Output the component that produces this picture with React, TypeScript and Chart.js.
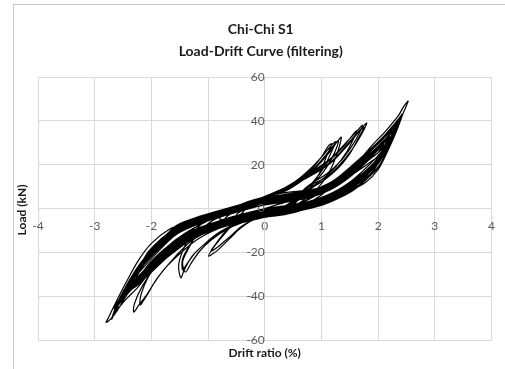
import React, { useEffect, useRef } from 'react';
import { Chart, registerables } from 'chart.js';

Chart.register(...registerables);

const titleLines = ['Chi-Chi S1', 'Load-Drift Curve (filtering)'];
const xAxisTitle = 'Drift ratio (%)';
const yAxisTitle = 'Load (kN)';
const xRange = [-4, 4];
const xStep = 1;
const yRange = [-60, 60];
const yStep = 20;

// [drift ratio (%), load (kN)] – small early cycles
const smallCycles: [number, number][] = [
  [0, 0], [0.25, 2], [0.5, 4],
  [0.3, 4.5], [0, 3], [-0.3, 0.5], [-0.5, -3],
  [-0.3, -3.5], [0, -2], [0.3, 0.5], [0.6, 4.5],
  [0.4, 5.5], [0, 3.5], [-0.4, 0], [-0.7, -4.5],
  [-0.5, -5], [0, -2.5], [0.4, 0.5], [0.8, 5],
  [0.5, 6], [0, 4], [-0.4, 0.5], [-0.8, -4.5],
  [-0.5, -5.5], [0, -3], [0.4, 0], [0.8, 4.5], [1.0, 8],
  [0.8, 8], [0.4, 6.5], [0, 4.5], [-0.4, 1], [-0.8, -4], [-1.0, -7],
  [-0.8, -7.5], [-0.4, -5], [0, -3], [0.4, -0.5], [0.8, 3], [1.1, 8.5],
];

// stiffer cycles branching off the main band
const stiffCycles: [number, number][] = [
  [0.9, 9], [0.5, 7], [0, 5], [-0.25, 2.5], [-0.45, -4], [-0.69, -11], [-0.88, -17], [-0.99, -21.7],
  [-0.83, -19], [-0.63, -14], [-0.45, -9.5], [-0.2, -5], [0, -3.5], [0.3, -1], [0.6, 4], [0.85, 11], [1.0, 18], [1.1, 24.5], [1.18, 29.5],
  [1.12, 28.5], [1.0, 23.5], [0.83, 18], [0.6, 13], [0.3, 8.5], [0, 5.5], [-0.25, 2], [-0.45, -3.5], [-0.68, -10], [-0.86, -16], [-0.95, -19.5],
  [-0.8, -17], [-0.6, -12.5], [-0.4, -8], [-0.15, -4.5], [0.2, -1], [0.55, 4.5], [0.85, 12], [1.05, 19], [1.17, 25.5], [1.25, 30.5],
  [1.18, 29], [1.02, 24], [0.8, 18], [0.55, 12.5], [0.25, 8], [0, 5], [-0.5, 0], [-1.0, -5], [-1.3, -12], [-1.45, -19.5], [-1.52, -26], [-1.48, -31.6],
  [-1.42, -28], [-1.28, -21.7], [-1.04, -15.7], [-0.81, -11], [-0.5, -7], [0, -4], [0.4, -0.5], [0.8, 6], [1.05, 13], [1.2, 20], [1.3, 27], [1.35, 32.5],
  [1.28, 30.5], [1.15, 26], [0.95, 20], [0.7, 14], [0.35, 9], [0, 5.5], [-0.5, 0.5], [-0.95, -6], [-1.2, -12], [-1.36, -19], [-1.45, -24.5], [-1.4, -29],
  [-1.3, -25], [-1.15, -19.5], [-0.95, -14.5], [-0.7, -10], [-0.4, -6.5], [0, -4], [0.4, -0.5], [0.75, 8], [1.05, 13], [1.3, 18.5], [1.5, 25], [1.65, 32], [1.75, 37],
  [1.68, 35.5], [1.45, 28.5], [1.15, 20.5], [0.75, 14], [0.4, 9.5], [0, 5.5], [-0.5, 0.5], [-1.0, -5], [-1.35, -11], [-1.63, -18.7], [-1.92, -26.3], [-2.16, -35.4], [-2.3, -43.5], [-2.31, -47.3],
  [-2.22, -44], [-2.1, -40], [-1.87, -30.9], [-1.57, -21.7], [-1.28, -14.5], [-0.9, -9.5], [-0.5, -6], [0, -3.5], [0.4, -0.5], [0.72, 9.4], [1.07, 14], [1.3, 19.3], [1.54, 26.9], [1.71, 34], [1.8, 39],
  [1.72, 37], [1.48, 30], [1.18, 21.6], [0.77, 14.7], [0.4, 8.5], [0, 5], [-0.4, 1.5], [-0.8, -2], [-1.2, -6], [-1.6, -11], [-2.1, -23.5], [-2.3, -31.5], [-2.4, -36.5],
  [-2.25, -34], [-2.0, -27], [-1.6, -18.5], [-1.2, -12], [-0.8, -8], [-0.4, -5], [0, -3], [0.4, 0], [0.7, 7.5], [1.0, 13], [1.25, 19], [1.45, 26], [1.57, 32], [1.62, 35.5],
  [1.55, 33.5], [1.38, 28], [1.1, 21], [0.75, 15], [0.4, 10], [0, 5.5], [-0.5, 0.5], [-0.9, -5], [-1.15, -10.5], [-1.33, -17], [-1.45, -23], [-1.45, -28],
  [-1.38, -25.5], [-1.22, -20], [-1.0, -15], [-0.75, -10.5], [-0.4, -6.5], [0, -3.8], [0.35, 0], [0.7, 8], [0.95, 14], [1.12, 20], [1.24, 26], [1.3, 31],
  [1.22, 29], [1.05, 23.5], [0.82, 17], [0.5, 11], [0.2, 7], [0, 5], [-0.5, 0.5], [-1.0, -5.5], [-1.5, -13], [-1.8, -21.5], [-2.05, -31], [-2.18, -39], [-2.2, -44],
  [-2.1, -40.5], [-1.95, -34], [-1.75, -27], [-1.45, -19.5], [-1.15, -13.5], [-0.8, -9], [-0.4, -5.5], [0, -3.5], [0.4, 0], [0.75, 10], [1.1, 16], [1.35, 22], [1.55, 29], [1.68, 35], [1.72, 38],
  [1.65, 36], [1.45, 30.5], [1.15, 22.5], [0.75, 15.5], [0.4, 9], [0, 5.2], [-0.4, 1.7], [-0.8, -1.8], [-1.2, -5.7], [-1.6, -10.5], [-2.1, -23], [-2.3, -31], [-2.4, -36.5],
];

// main band of large cycles
const mainCycles: [number, number][] = [
  [-2.3, -34.5], [-2.1, -28.5], [-1.6, -16.8], [-1.2, -10.8], [-0.8, -7], [-0.4, -4], [0, -1.8], [0.4, -0.1], [0.8, 2], [1.2, 5.8], [1.6, 12], [1.8, 16], [2.0, 23], [2.1, 28],
  [2.0, 25.5], [1.8, 21.5], [1.6, 17.4], [1.2, 9.8], [0.8, 5.6], [0.4, 3.7], [0, 2.3], [-0.4, -0.4], [-0.8, -3.4], [-1.2, -6.7], [-1.6, -11.8], [-2.15, -25.5], [-2.35, -33.5], [-2.45, -38.5],
  [-2.35, -35.4], [-2.15, -31], [-1.6, -17.9], [-1.2, -11.7], [-0.8, -7.8], [-0.4, -4.8], [0, -2.7], [0.4, -0.9], [0.8, 1.2], [1.2, 4.9], [1.6, 10.8], [1.9, 16.8], [2.1, 26.6], [2.2, 32],
  [2.1, 30], [1.9, 25.5], [1.6, 18.6], [1.2, 10.7], [0.8, 6.4], [0.4, 4.5], [0, 3.2], [-0.4, 0.4], [-0.8, -2.6], [-1.2, -5.8], [-1.6, -10.7], [-2.2, -26.6], [-2.4, -34.6], [-2.5, -40.5],
  [-2.4, -37.3], [-2.2, -33.5], [-1.6, -19], [-1.2, -12.5], [-0.8, -8.6], [-0.4, -5.6], [0, -3.6], [0.4, -1.8], [0.8, 0.4], [1.2, 4], [1.6, 9.6], [2.0, 18.6], [2.2, 30.2], [2.3, 36.5],
  [2.2, 34.5], [2.0, 29.5], [1.6, 19.8], [1.2, 11.6], [0.8, 7.2], [0.4, 5.4], [0, 4.1], [-0.4, 1.2], [-0.8, -1.8], [-1.2, -4.9], [-1.6, -9.6], [-2.25, -27.9], [-2.45, -36.5], [-2.55, -42],
  [-2.45, -38.1], [-2.25, -32.1], [-1.6, -15.7], [-1.2, -9.9], [-0.8, -6.2], [-0.4, -3.2], [0, -0.9], [0.4, 0.7], [0.8, 2.8], [1.2, 6.6], [1.6, 13.2], [2.05, 24.3], [2.25, 33.6], [2.35, 39],
  [2.25, 36.5], [2.05, 31.5], [1.6, 21], [1.2, 12.5], [0.8, 8], [0.4, 6.2], [0, 5], [-0.4, 2], [-0.8, -1], [-1.2, -4], [-1.6, -8.5], [-2.3, -29.3], [-2.5, -38], [-2.6, -44],
  [-2.5, -40.7], [-2.3, -34.9], [-1.6, -17.3], [-1.2, -11.2], [-0.8, -7.4], [-0.4, -4.4], [0, -2.2], [0.4, -0.5], [0.8, 1.6], [1.2, 5.3], [1.6, 11.4], [2.1, 25], [2.3, 35.3], [2.39, 41],
  [2.3, 37.3], [2.1, 30], [1.6, 18], [1.2, 10.3], [0.8, 6], [0.4, 4.1], [0, 2.8], [-0.4, 0], [-0.8, -3], [-1.2, -6.3], [-1.6, -11.3], [-2.36, -32.6], [-2.56, -41], [-2.66, -45.5],
  [-2.56, -43.4], [-2.36, -37.2], [-1.6, -18.4], [-1.2, -12.1], [-0.8, -8.2], [-0.4, -5.2], [0, -3.1], [0.4, -1.4], [0.8, 0.8], [1.2, 4.4], [1.6, 10.2], [2.12, 25], [2.32, 36], [2.42, 43],
  [2.32, 39], [2.12, 33], [1.6, 19.2], [1.2, 11.2], [0.8, 6.8], [0.4, 5], [0, 3.6], [-0.4, 0.8], [-0.8, -2.2], [-1.2, -5.4], [-1.6, -10.2], [-2.4, -33.8], [-2.6, -43], [-2.7, -50.5],
];

// further cycles of the main band
const repeatCycles: [number, number][] = [
  [-2.6, -45], [-2.4, -36.5], [-1.6, -15.4], [-1.2, -9.6], [-0.8, -6], [-0.4, -3.1], [0, -0.7], [0.4, 1.0], [0.8, 3.0], [1.2, 6.8], [1.6, 13.5], [1.85, 18.5], [2.05, 25.5], [2.15, 31],
  [2.05, 28.5], [1.85, 25], [1.6, 20.1], [1.2, 11.8], [0.8, 7.4], [0.4, 5.6], [0, 4.3], [-0.4, 1.4], [-0.8, -1.6], [-1.2, -4.7], [-1.6, -9.3], [-2.05, -19.6], [-2.25, -29.4], [-2.35, -34.5],
  [-2.25, -31.6], [-2.05, -26.4], [-1.6, -16.5], [-1.2, -10.5], [-0.8, -6.8], [-0.4, -3.8], [0, -1.5], [0.4, 0.1], [0.8, 2.2], [1.2, 6], [1.6, 12.3], [1.98, 20.7], [2.18, 30.3], [2.28, 36],
  [2.18, 33], [1.98, 27.5], [1.6, 18.9], [1.2, 10.9], [0.8, 6.6], [0.4, 4.7], [0, 3.4], [-0.4, 0.6], [-0.8, -2.4], [-1.2, -5.6], [-1.6, -10.4], [-2.12, -23.2], [-2.32, -32.1], [-2.42, -37.5],
  [-2.32, -35], [-2.12, -31.7], [-1.6, -19.2], [-1.2, -12.8], [-0.8, -8.8], [-0.4, -5.8], [0, -3.8], [0.4, -2], [0.8, 0.2], [1.2, 3.7], [1.6, 9.3], [2.03, 19.8], [2.23, 31.4], [2.33, 38],
  [2.23, 34.5], [2.03, 27.5], [1.6, 17.1], [1.2, 9.6], [0.8, 5.4], [0.4, 3.5], [0, 2.1], [-0.4, -0.6], [-0.8, -3.6], [-1.2, -6.9], [-1.6, -12.1], [-2.2, -27.6], [-2.4, -35], [-2.5, -40],
  [-2.4, -37], [-2.2, -32.8], [-1.6, -18.1], [-1.2, -11.9], [-0.8, -8], [-0.4, -5], [0, -2.9], [0.4, -1.2], [0.8, 1], [1.2, 4.6], [1.6, 10.5], [1.9, 16.5], [2.1, 26.5], [2.2, 33],
  [2.1, 30], [1.9, 24.5], [1.6, 18.3], [1.2, 10.5], [0.8, 6.2], [0.4, 4.3], [0, 3], [-0.4, 0.2], [-0.8, -2.8], [-1.2, -6], [-1.6, -11], [-2.26, -29], [-2.46, -37.1], [-2.56, -42.5],
  [-2.46, -38.2], [-2.26, -31.7], [-1.6, -14.8], [-1.2, -9.2], [-0.8, -5.6], [-0.4, -2.6], [0, -0.2], [0.4, 1.4], [0.8, 3.4], [1.2, 7.3], [1.6, 14.1], [2.1, 27.2], [2.3, 36.2], [2.4, 42],
  [2.3, 39], [2.1, 33], [1.6, 20.4], [1.2, 12], [0.8, 7.6], [0.4, 5.8], [0, 4.5], [-0.4, 1.6], [-0.8, -1.4], [-1.2, -4.5], [-1.6, -9], [-2.18, -24.5], [-2.38, -33.5], [-2.48, -39.5],
  [-2.38, -35.9], [-2.18, -31], [-1.6, -16.8], [-1.2, -10.8], [-0.8, -7], [-0.4, -4], [0, -1.8], [0.4, -0.1], [0.8, 2], [1.2, 5.8], [1.6, 12], [1.96, 19.8], [2.16, 29.4], [2.26, 35],
  [2.16, 32.5], [1.96, 27.5], [1.6, 19.2], [1.2, 11.2], [0.8, 6.8], [0.4, 4.9], [0, 3.7], [-0.4, 0.8], [-0.8, -2.2], [-1.2, -5.4], [-1.6, -10.2], [-2.32, -30.9], [-2.52, -39.4], [-2.62, -44.5],
  [-2.52, -41], [-2.32, -34.3], [-1.6, -15.7], [-1.2, -9.9], [-0.8, -6.2], [-0.4, -3.2], [0, -0.9], [0.4, 0.7], [0.8, 2.8], [1.2, 6.6], [1.6, 13.2], [1.88, 18.8], [2.08, 26.6], [2.18, 32],
  [2.08, 29.5], [1.88, 25.5], [1.6, 19.8], [1.2, 11.6], [0.8, 7.2], [0.4, 5.4], [0, 4.1], [-0.4, 1.2], [-0.8, -1.8], [-1.2, -4.9], [-1.6, -9.6], [-2.1, -21.7], [-2.3, -31.3], [-2.4, -37],
  [-2.3, -33.7], [-2.1, -29.1], [-1.6, -17.3], [-1.2, -11.2], [-0.8, -7.4], [-0.4, -4.4], [0, -2.2], [0.4, -0.5], [0.8, 1.6], [1.2, 5.3], [1.6, 11.4], [2.0, 20.4], [2.2, 30.8], [2.3, 37],
  [2.2, 33.5], [2.0, 27], [1.6, 17.4], [1.2, 9.8], [0.8, 5.6], [0.4, 3.7], [0, 2.3], [-0.4, -0.4], [-0.8, -3.4], [-1.2, -6.7], [-1.6, -11.8], [-2.22, -28.1], [-2.42, -35.7], [-2.52, -41],
  [-2.42, -38.3], [-2.22, -34.5], [-1.6, -19.5], [-1.2, -13], [-0.8, -9], [-0.4, -6], [0, -4], [0.4, -2.2], [0.8, 0], [1.2, 3.5], [1.6, 9], [2.06, 20.9], [2.26, 32.6], [2.36, 40],
  [2.26, 35.5], [2.06, 28.5], [1.6, 16.5], [1.2, 9.1], [0.8, 5], [0.4, 3], [0, 1.6], [-0.4, -1], [-0.8, -4], [-1.2, -7.4], [-1.6, -12.6], [-2.28, -31], [-2.48, -38.3], [-2.58, -43],
  [-2.48, -40], [-2.28, -34.7], [-1.6, -17.6], [-1.2, -11.4], [-0.8, -7.6], [-0.4, -4.6], [0, -2.4], [0.4, -0.7], [0.8, 1.4], [1.2, 5.1], [1.6, 11.1], [1.8, 15.1], [2.0, 22.7], [2.1, 29],
  [2.0, 25.5], [1.8, 21.5], [1.6, 17.7], [1.2, 10], [0.8, 5.8], [0.4, 3.9], [0, 2.5], [-0.4, -0.2], [-0.8, -3.2], [-1.2, -6.5], [-1.6, -11.5], [-2.34, -31.7], [-2.54, -40.6], [-2.64, -46.5],
];

// outermost cycle and final cycles
const outerCycles: [number, number][] = [
  [-2.55, -44.5], [-2.45, -41.5], [-2.22, -35.4], [-1.99, -27.8], [-1.69, -21.7], [-1.34, -14.9], [-0.99, -10.3], [-0.57, -6.5], [-0.28, -5], [0, -3.8], [0.25, -3.2], [0.6, -1.2], [1.0, 2.6], [1.42, 7.1], [1.77, 11.7], [2.0, 17.8], [2.2, 28], [2.35, 37], [2.45, 44], [2.53, 49],
  [2.45, 46.5], [2.36, 42.5], [2.12, 35], [1.9, 29], [1.7, 23], [1.42, 15.5], [1.0, 9], [0.6, 7.9], [0.25, 6.8], [0, 5.3], [-0.28, 3.3], [-0.57, 0.3], [-0.99, -2.7], [-1.34, -5.8], [-1.69, -9.6], [-1.99, -15.7], [-2.22, -23.3], [-2.45, -33.9], [-2.65, -44], [-2.75, -49.5], [-2.8, -52],
  [-2.72, -50.5], [-2.6, -46.5], [-2.4, -38], [-2.1, -28.5], [-1.6, -16.8], [-1.2, -10.8], [-0.8, -7], [-0.4, -4], [0, -1.8], [0.4, -0.1], [0.8, 2], [1.2, 5.8], [1.6, 12], [1.95, 20.5], [2.14, 30], [2.24, 36.8],
  [2.14, 34], [1.95, 28.5], [1.6, 20.4], [1.2, 12], [0.8, 7.6], [0.4, 5.8], [0, 4.5], [-0.4, 1.6], [-0.8, -1.4], [-1.2, -4.5], [-1.6, -9], [-2.2, -25.4], [-2.4, -33.8], [-2.5, -42],
  [-2.4, -36.7], [-2.2, -31], [-1.6, -16.2], [-1.2, -10.3], [-0.8, -6.6], [-0.4, -3.6], [0, -1.3], [0.4, 0.3], [0.8, 2.4], [1.2, 6.2], [1.6, 12.6], [1.9, 18.6], [2.1, 27.2], [2.2, 34],
  [2.1, 30.5], [1.9, 24], [1.6, 16.8], [1.2, 9.4], [0.8, 5.2], [0.4, 3.3], [0, 1.9], [-0.4, -0.8], [-0.8, -3.8], [-1.2, -7.2], [-1.6, -12.4], [-2.0, -21], [-2.2, -28.5], [-2.3, -33.5],
  [-2.2, -30.5], [-2.0, -24], [-1.6, -15.1], [-1.2, -9.4], [-0.8, -5.8], [-0.4, -2.8], [0, -0.4], [0.4, 1.2], [0.8, 3.2], [1.2, 7.1], [1.6, 13.8], [1.9, 19.5], [2.0, 23.5],
  [1.8, 20], [1.4, 13], [1.0, 8], [0.5, 4.5], [0, 2],
];

const textPlugin = {
  id: 'textPlugin',
  afterDraw(chart: any) {
    const { ctx, chartArea } = chart;
    const cx = (chartArea.left + chartArea.right) / 2;
    ctx.save();
    ctx.fillStyle = '#1a1a1a';
    ctx.textAlign = 'center';
    ctx.textBaseline = 'middle';
    ctx.font = 'bold 14px Lato';
    ctx.fillText(titleLines[0], cx - 4, 29);
    ctx.fillText(titleLines[1], cx - 4, 51);
    ctx.font = 'bold 12px Lato';
    ctx.fillText(xAxisTitle, cx, 353);
    ctx.translate(22, 210);
    ctx.rotate(-Math.PI / 2);
    ctx.fillText(yAxisTitle, 0, 0);
    ctx.restore();
  },
};

export default function App() {
  const canvasRef = useRef<HTMLCanvasElement>(null);

  useEffect(() => {
    if (!canvasRef.current) return;
    const path = [...smallCycles, ...stiffCycles, ...mainCycles, ...repeatCycles, ...outerCycles].map(([x, y]) => ({ x, y }));
    const chart = new Chart(canvasRef.current, {
      type: 'scatter',
      data: {
        datasets: [
          {
            data: path,
            showLine: true,
            borderColor: '#000000',
            borderWidth: 1.2,
            pointRadius: 0,
            tension: 0.3,
            fill: false,
          },
        ],
      },
      options: {
        responsive: false,
        animation: false,
        layout: { padding: { left: 38, right: 8, top: 77, bottom: 29 } },
        plugins: { legend: { display: false }, tooltip: { enabled: false }, title: { display: false } },
        scales: {
          x: {
            type: 'linear',
            min: xRange[0],
            max: xRange[1],
            position: { y: 0 } as any,
            ticks: { stepSize: xStep, color: '#595959', font: { family: 'Lato', size: 12 }, padding: 10 },
            grid: { color: '#d9d9d9', drawTicks: false },
            border: { color: '#d9d9d9' },
          },
          y: {
            type: 'linear',
            min: yRange[0],
            max: yRange[1],
            position: { x: 0 } as any,
            ticks: { stepSize: yStep, color: '#595959', font: { family: 'Lato', size: 12 }, padding: 12, z: 1 } as any,
            grid: { color: '#d9d9d9', drawTicks: false },
            border: { color: '#d9d9d9' },
          },
        },
      },
      plugins: [textPlugin],
    });
    return () => chart.destroy();
  }, []);

  return (
    <div style={{ position: 'fixed', left: 0, top: 0, width: 505, height: 369, background: '#ffffff', overflow: 'hidden' }}>
      <div style={{ position: 'absolute', left: 13, top: 4, width: 520, height: 420, border: '1px solid #c8c8c8' }} />
      <canvas ref={canvasRef} width={505} height={369} style={{ position: 'absolute', left: 0, top: 0 }} />
    </div>
  );
}
